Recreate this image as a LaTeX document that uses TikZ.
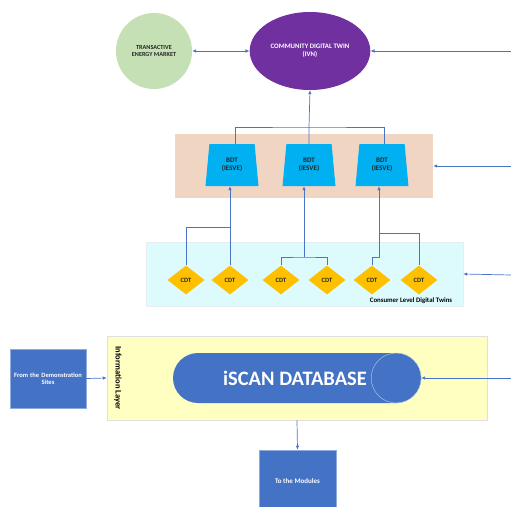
\documentclass[tikz,border=0pt]{standalone}
\usepackage{fontspec}
\setmainfont{Carlito}
\usetikzlibrary{shapes.geometric,shapes.misc,arrows.meta}

\definecolor{linkblue}{HTML}{4A74C6}
\definecolor{boxblue}{HTML}{4472C4}
\definecolor{marketgreen}{HTML}{C5E0B4}
\definecolor{twinpurple}{HTML}{7030A0}
\definecolor{bdtpanel}{HTML}{F1D5C3}
\definecolor{bdtblue}{HTML}{00B0F0}
\definecolor{cdtpanel}{HTML}{DDFBFC}
\definecolor{cdtgold}{HTML}{FFC000}
\definecolor{infoyellow}{HTML}{FFFFC2}

\begin{document}
\begin{tikzpicture}[x=1pt, y=-1pt]
\tikzstyle{tiny}=[font=\fontsize{6.5}{7.5}\selectfont\bfseries, align=center]
\tikzstyle{panel}=[rectangle, inner sep=0pt]
\tikzstyle{bdt}=[tiny, trapezium, trapezium left angle=83, trapezium right angle=83,
    trapezium stretches=true, minimum width=53pt, minimum height=42pt, inner sep=0pt,
    fill=bdtblue, text=black!85, font=\fontsize{7}{8.5}\selectfont\bfseries]
\tikzstyle{cdt}=[tiny, diamond, minimum width=37pt, minimum height=29pt, inner sep=0pt,
    fill=cdtgold, text=black!85]
\tikzstyle{bluebox}=[tiny, rectangle, fill=boxblue, draw=boxblue!60, line width=0.5pt,
    text=white]
\tikzstyle{wire}=[draw=linkblue, line width=0.7pt]
\tikzstyle{flow}=[wire, -{Latex[length=4pt,width=3.5pt]}]
\tikzstyle{twoway}=[wire, {Latex[length=4pt,width=3.5pt]}-{Latex[length=4pt,width=3.5pt]}]

\useasboundingbox (0,0) rectangle (511,506);

% Market and community twin
\node[tiny, circle, fill=marketgreen, minimum size=76pt, text=black!85,
    font=\fontsize{6.2}{7.5}\selectfont\bfseries] (tem) at (154,51)
    {TRANSACTIVE\\ENERGY MARKET};
\node[tiny, ellipse, fill=twinpurple, minimum width=114pt, minimum height=78pt,
    text=white, font=\fontsize{6.8}{8.5}\selectfont\bfseries] (ivn) at (310,51)
    {COMMUNITY DIGITAL TWIN\\(IVN)};

% Building twins
\node[panel, fill=bdtpanel, minimum width=258pt, minimum height=64pt] (bdtlayer) at (304,166) {};
\foreach \n/\x in {1/232, 2/309, 3/382}
    \node[bdt] (bdt\n) at (\x,165) {BDT\\(IESVE)};

% Consumer twins
\node[panel, fill=cdtpanel, draw=cdtpanel!70!gray!40, minimum width=317pt, minimum height=64pt]
    (cdtlayer) at (304.5,274) {};
\foreach \n/\x in {1/186, 2/230, 3/281, 4/327, 5/372, 6/419}
    \node[cdt] (cdt\n) at (\x,280) {CDT};
\node[tiny, font=\fontsize{6.8}{8}\selectfont\bfseries] (cdtlabel) at (411,301)
    {Consumer Level Digital Twins};

% Information layer and database
\node[panel, fill=infoyellow, draw=black!12, line width=0.5pt, minimum width=380pt,
    minimum height=84pt] (infolayer) at (297,378) {};
\node[tiny, rotate=-90, font=\fontsize{8.5}{10}\selectfont\bfseries] (infolabel) at (118,378)
    {Information Layer};
\node[rounded rectangle, fill=boxblue, minimum width=248pt, minimum height=50pt,
    inner sep=0pt] (iscan) at (297,378) {};
\draw[draw=white!55!boxblue, line width=0.5pt] ([xshift=-25pt]iscan.east) circle (25pt);
\node[text=white, font=\fontsize{20.5}{22}\selectfont\bfseries] (iscantext) at (295,378)
    {iSCAN DATABASE};

\node[bluebox, minimum width=76pt, minimum height=59pt, text width=74pt, inner sep=1pt]
    (demo) at (48,378.5) {From the Demonstration\\Sites};
\node[bluebox, minimum width=77pt, minimum height=62pt,
    font=\fontsize{7}{8}\selectfont\bfseries] (modules) at (297.5,481) {To the Modules};

% Free ends on the right
\coordinate (feedivn) at (511,51);
\coordinate (feedbdt) at (511,166);
\coordinate (feedcdt) at (511,275);
\coordinate (feeddb) at (511,378);

% Junctions between the twin layers
\coordinate (j1) at (230,227);
\coordinate (j2) at (304,257);
\coordinate (j3) at (379,257);
\coordinate (j4) at (379,233);
\coordinate (bus) at (309,127);

% Connectors
\draw[twoway] (tem) -- (ivn);
\draw[flow] (feedivn) -- (ivn.east);
\draw[flow] (feedbdt) -- (bdtlayer.east);
\draw[flow] (feedcdt) -- (cdtlayer.east);
\draw[flow] (feeddb) -- (iscan.east);

\draw[wire] ([xshift=3pt]bdt1.north) |- (bus) -| ([xshift=2pt]bdt3.north);
\draw[wire] (bdt2.north) -- (bus);
\draw[flow] (bus) -- (ivn.south);

\draw[flow] (cdt2.north) -- (cdt2.north |- bdt1.south);
\draw[wire] (cdt1.north) |- (j1);
\draw[wire] (cdt3.north) |- (j2) -| (cdt4.north);
\draw[flow] (j2) -- (j2 |- bdt2.south);
\draw[flow] (cdt5.north) |- (j3) -- (j3 |- bdt3.south);
\draw[wire] (cdt6.north) |- (j4);

\draw[flow] (demo.east) -- (infolayer.west);
\draw[flow] (infolayer.south) -- (modules.north);

\end{tikzpicture}
\end{document}
